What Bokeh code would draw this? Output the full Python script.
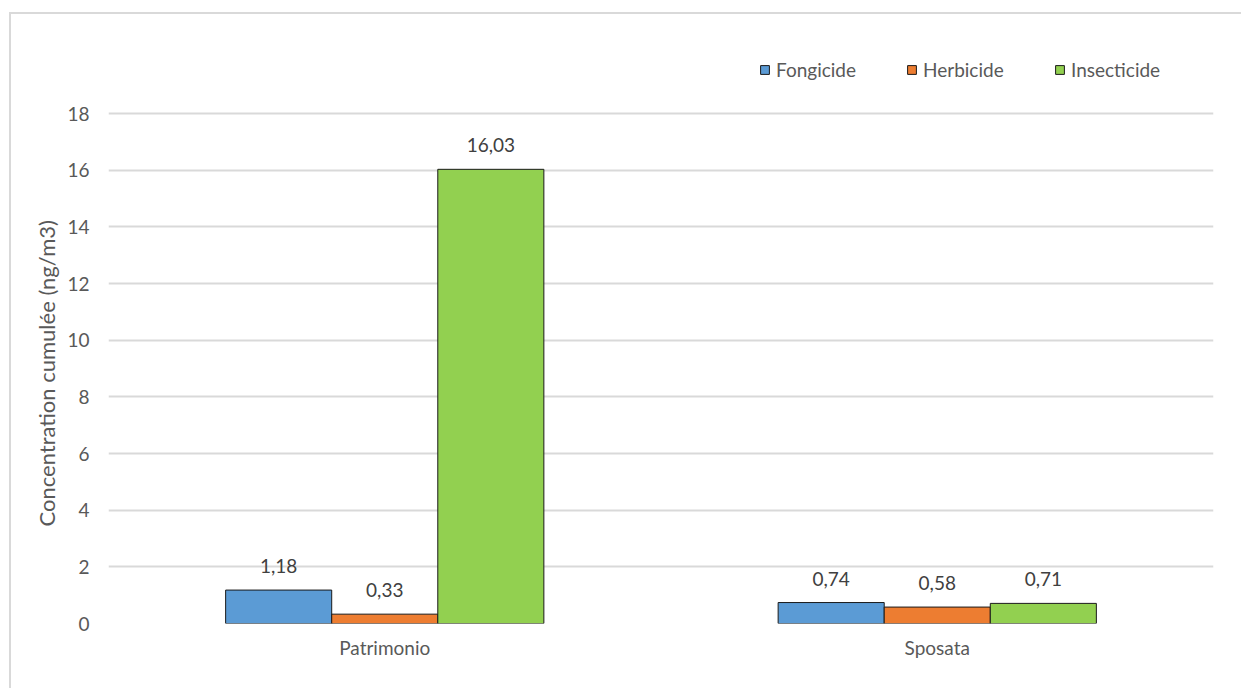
from bokeh.plotting import figure
from bokeh.models import (ColumnDataSource, FactorRange, Range1d, Legend, LegendItem,
                          LabelSet, FixedTicker, Title)
from bokeh.transform import dodge
from bokeh.core.properties import value
from bokeh.embed import file_html
from bokeh.resources import INLINE

# Cumulative pesticide concentrations (ng/m3) per site and family
categories = ["Patrimonio", "Sposata"]
series_names = ["Fongicide", "Herbicide", "Insecticide"]
fongicide = [1.18, 0.74]
herbicide = [0.33, 0.58]
insecticide = [16.03, 0.71]
y_ticks = [0, 2, 4, 6, 8, 10, 12, 14, 16, 18]

colors = ["#5B9BD5", "#ED7D31", "#92D050"]
FONT = "Lato"
TEXT_GREY = "#595959"
LABEL_DARK = "#404040"
GRID = "#D9D9D9"
EDGE = "#1A1A1A"

# Chart area sits inside a light frame offset from the page corner
OX, OY = 11, 14
W, H = 1243 - OX, 690 - OY
FRAME_L, FRAME_R, FRAME_T, FRAME_B = 108, 1213, 40, 623
Y_TOP_VALUE = 18 * (FRAME_B - FRAME_T) / (FRAME_B - 113)


def fmt(v):
    return f"{v:.2f}".replace(".", ",")


p = figure(
    width=W, height=H,
    x_range=FactorRange(factors=categories, range_padding=0),
    y_range=Range1d(0, Y_TOP_VALUE),
    output_backend="svg", toolbar_location=None,
    min_border_left=FRAME_L - OX, min_border_right=W - (FRAME_R - OX),
    min_border_top=FRAME_T - OY, min_border_bottom=H - (FRAME_B - OY),
    margin=(12, 0, 0, 9),
)
p.styles = {"border-left": f"2px solid {GRID}", "border-top": f"2px solid {GRID}"}
p.outline_line_color = None
p.background_fill_color = "white"
p.border_fill_color = "white"

bar_w = 0.192
offsets = [-bar_w, 0.0, bar_w]
values = [fongicide, herbicide, insecticide]

bars = []
for name, vals, col, off in zip(series_names, values, colors, offsets):
    src = ColumnDataSource(dict(cat=categories, val=vals, lbl=[fmt(v) for v in vals]))
    r = p.vbar(x=dodge("cat", off, range=p.x_range), top="val", width=bar_w,
               source=src, fill_color=col, line_color=EDGE, line_width=1)
    bars.append(r)
    p.add_layout(LabelSet(x=dodge("cat", off, range=p.x_range), y="val", text="lbl",
                          source=src, text_align="center", text_baseline="middle",
                          y_offset=24, text_font=value(FONT), text_font_size="19px",
                          text_color=LABEL_DARK))

# Axes
p.yaxis.ticker = FixedTicker(ticks=y_ticks)
p.yaxis.axis_line_color = None
p.yaxis.major_tick_line_color = None
p.yaxis.minor_tick_line_color = None
p.yaxis.major_label_text_font = FONT
p.yaxis.major_label_text_font_size = "19px"
p.yaxis.major_label_text_color = TEXT_GREY
p.yaxis.major_label_standoff = 13

p.xaxis.axis_line_color = None
p.xaxis.major_tick_line_color = None
p.xaxis.minor_tick_line_color = None
p.xaxis.major_label_text_font = FONT
p.xaxis.major_label_text_font_size = "19px"
p.xaxis.major_label_text_color = TEXT_GREY
p.xaxis.major_label_standoff = 6

p.xgrid.grid_line_color = None
p.ygrid.grid_line_color = GRID
p.ygrid.grid_line_width = 2
p.ygrid.ticker = FixedTicker(ticks=y_ticks)

# Vertical axis title, centred on the 0-18 value span
p.add_layout(Title(text="Concentration cumulée (ng/m3)", align="left", offset=97,
                   text_font=FONT, text_font_size="22px", text_font_style="normal",
                   text_color=TEXT_GREY, standoff=10), "left")

# One legend per entry, laid out in a row above the bars
legend_x = [759, 906, 1054]
for name, r, lx in zip(series_names, bars, legend_x):
    lg = Legend(items=[LegendItem(label=name, renderers=[r])],
                location=(lx - FRAME_L, FRAME_B - 81), orientation="horizontal",
                glyph_width=11, glyph_height=11, label_standoff=6,
                padding=0, margin=0, spacing=0,
                border_line_color=None, background_fill_alpha=0,
                label_text_font=FONT, label_text_font_size="19px",
                label_text_color=TEXT_GREY)
    p.add_layout(lg, "center")

open("out.html", "w").write(file_html(p, INLINE))
